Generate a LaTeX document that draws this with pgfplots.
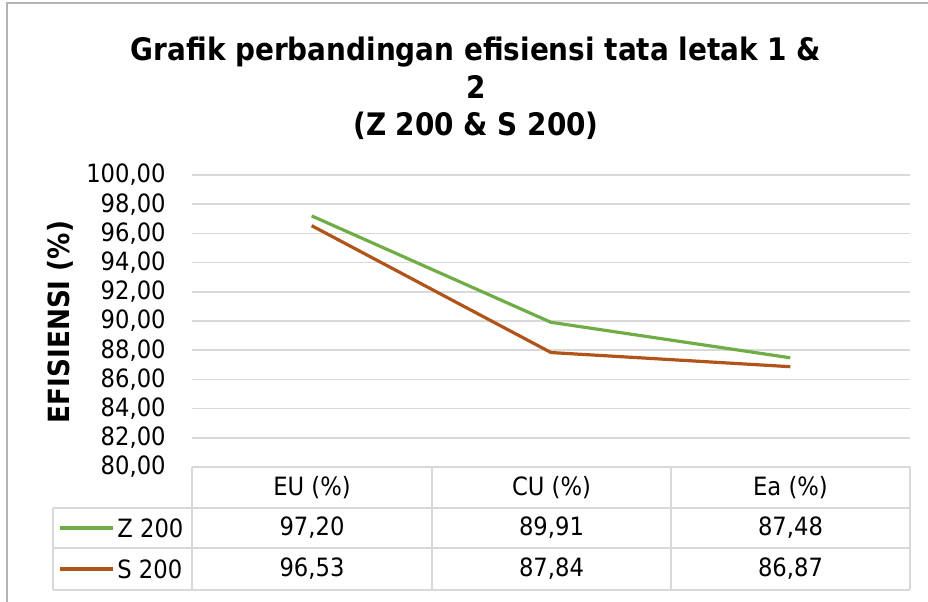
\documentclass[border=0pt]{standalone}
\usepackage{fontspec}
\setmainfont{DejaVu Sans Condensed}
\usepackage{pgfplots}
\pgfplotsset{compat=1.18}
\definecolor{zgreen}{HTML}{70AD47}
\definecolor{sbrown}{HTML}{B0541A}
\definecolor{gridc}{HTML}{D9D9D9}
\definecolor{borderc}{HTML}{B4B4B4}
\begin{document}
\begin{tikzpicture}[x=1pt,y=1pt]
\begin{axis}[
  at={(96pt,67pt)}, anchor=south west,
  width=359pt, height=146pt, scale only axis,
  xmin=-0.5, xmax=2.5, ymin=80, ymax=100,
  ytick={80,82,...,100},
  xtick=\empty,
  ymajorgrids, grid style={gridc, line width=0.75pt},
  axis line style={draw=none},
  major tick length=0pt,
  clip=false,
  yticklabel style={font=\fontsize{12.6}{14}\selectfont, anchor=east, inner sep=0pt, xshift=-13pt,
    /pgf/number format/.cd, fixed, fixed zerofill, precision=2, use comma, assume math mode=true},
]
\addplot[zgreen, line width=1.6pt] coordinates {(0,97.20) (1,89.91) (2,87.48)};
\addplot[sbrown, line width=1.6pt] coordinates {(0,96.53) (1,87.84) (2,86.87)};
\end{axis}
% table grid
\begin{scope}[gridc, line width=0.75pt]
\draw (96,67)--(455,67);
\draw (26.5,46.5)--(455,46.5);
\draw (26.5,26.5)--(455,26.5);
\draw (26.5,5.5)--(455,5.5);
\foreach \x in {96,216,335.5,455} \draw (\x,67)--(\x,5.5);
\draw (26.5,46.5)--(26.5,5.5);
\end{scope}
\begin{scope}[font=\fontsize{12.6}{14}\selectfont]
\node at (156,56.5) {EU (\%)};
\node at (275.75,56.5) {CU (\%)};
\node at (395.25,56.5) {Ea (\%)};
\node at (156,36.5) {97,20};
\node at (275.75,36.5) {89,91};
\node at (395.25,36.5) {87,48};
\node at (156,16) {96,53};
\node at (275.75,16) {87,84};
\node at (395.25,16) {86,87};
\draw[zgreen, line width=1.6pt] (30,36.5)--(56.5,36.5);
\draw[sbrown, line width=1.6pt] (30,16)--(56.5,16);
\node[anchor=west, inner sep=0pt] at (58.5,36.5) {Z 200};
\node[anchor=west, inner sep=0pt] at (58.5,16) {S 200};
\end{scope}
\node[rotate=90, font=\fontsize{14.6}{16}\selectfont\bfseries] at (30,139.5) {EFISIENSI (\%)};
\begin{scope}[font=\fontsize{15.5}{18}\selectfont\bfseries]
\node at (238,274.5) {Grafik perbandingan efisiensi tata letak 1 \&};
\node at (238,257) {2};
\node at (238,237.5) {(Z 200 \& S 200)};
\end{scope}
\draw[borderc, line width=0.75pt] (3.5,-5)--(3.5,299)--(470,299);
\pgfresetboundingbox
\useasboundingbox (0,0) rectangle (464,300.5);
\end{tikzpicture}
\end{document}
